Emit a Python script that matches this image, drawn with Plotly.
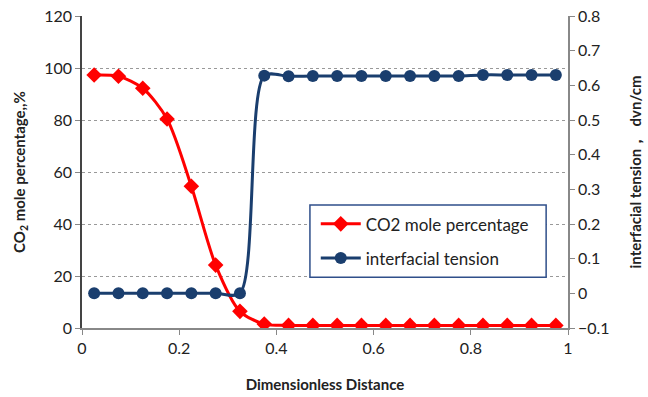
import plotly.graph_objects as go

distance = [0.025, 0.075, 0.125, 0.175, 0.225, 0.275, 0.325, 0.375, 0.425, 0.475,
            0.525, 0.575, 0.625, 0.675, 0.725, 0.775, 0.825, 0.875, 0.925, 0.975]
co2_pct = [97.3, 96.8, 92.2, 80.4, 54.5, 24.2, 6.4, 1.5, 1.0, 1.0,
           1.0, 1.0, 1.0, 1.0, 1.0, 1.0, 1.0, 1.0, 1.0, 1.0]
ift = [0.0, 0.0, 0.0, 0.0, 0.0, 0.0, 0.0, 0.628, 0.626, 0.627,
       0.627, 0.627, 0.627, 0.627, 0.627, 0.627, 0.630, 0.630, 0.630, 0.630]

RED = "#FF0000"
BLUE = "#1A3E6E"
FONT = "Lato"

fig = go.Figure()
fig.add_trace(go.Scatter(
    x=distance, y=co2_pct, name="CO2 mole percentage", mode="lines+markers",
    legendgroup="a",
    line=dict(color=RED, width=3, shape="spline", smoothing=0.8),
    marker=dict(symbol="diamond", size=12, color=RED), yaxis="y"))
fig.add_trace(go.Scatter(
    x=distance, y=ift, name="interfacial tension", mode="lines+markers",
    legendgroup="b",
    line=dict(color=BLUE, width=3, shape="spline", smoothing=0.8),
    marker=dict(symbol="circle", size=12, color=BLUE), yaxis="y2"))

# legend frame (wider than Plotly's tight legend box)
fig.add_shape(type="rect", xref="paper", yref="paper",
              x0=0.469, x1=0.955, y0=0.163, y1=0.394,
              line=dict(color="#2F4F8A", width=1.5), fillcolor="white", layer="above")

fig.update_layout(
    width=648, height=397,
    margin=dict(l=82, r=80, t=16, b=69),
    paper_bgcolor="white", plot_bgcolor="white",
    font=dict(family=FONT, size=16, color="#222222"),
    xaxis=dict(range=[0, 1], dtick=0.2, tickformat="~g", showgrid=False,
               automargin=False,
               showline=True, linecolor="#888888", linewidth=1.5,
               ticks="outside", ticklen=5, tickcolor="#888888", zeroline=False,
               title=dict(text="<b>Dimensionless Distance</b>", font=dict(size=15), standoff=24)),
    yaxis=dict(range=[0, 120], dtick=20, showgrid=True, gridcolor="#999999",
               automargin=False,
               griddash="dot", gridwidth=1,
               showline=True, linecolor="#444444", linewidth=1.5,
               ticks="outside", ticklen=5, tickcolor="#888888", zeroline=False,
               title=dict(text="<b>CO<sub>2</sub> mole percentage,,%</b>", font=dict(size=15), standoff=15)),
    yaxis2=dict(range=[-0.1, 0.8], dtick=0.1, overlaying="y", side="right",
                automargin=False,
                tickformat="~g", showgrid=False,
                showline=True, linecolor="#888888", linewidth=1.5,
                ticks="outside", ticklen=5, tickcolor="#888888", zeroline=False,
                title=dict(text="<b>interfacial tension，  dvn/cm</b>", font=dict(size=15), standoff=22)),
    legend=dict(x=0.481, y=0.39, xanchor="left", yanchor="top",
                borderwidth=0, bgcolor="rgba(0,0,0,0)",
                font=dict(size=17, family=FONT), tracegroupgap=9,
                itemwidth=40),
    showlegend=True,
)

fig.write_html("out.html", config={"displayModeBar": False},
               post_script="document.body.style.margin='0px';")
